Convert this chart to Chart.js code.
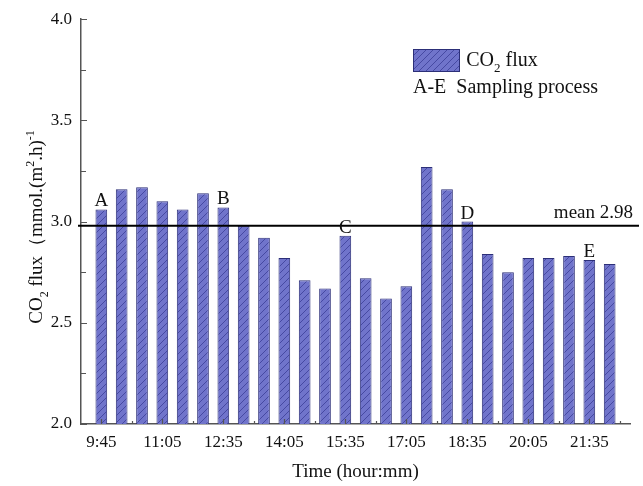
<!DOCTYPE html>
<html>
<head>
<meta charset="utf-8">
<script src="https://cdn.jsdelivr.net/npm/chart.js@4.4.1/dist/chart.umd.min.js"></script>
<style>
  html, body { margin: 0; padding: 0; background: #fff; }
</style>
</head>
<body>
<canvas id="flux_chart" width="643" height="486"></canvas>
<script>

// values, one bar per sampling time
var fluxValues = [3.06, 3.16, 3.17, 3.10, 3.06, 3.14, 3.07, 2.98, 2.92, 2.82,
                  2.71, 2.67, 2.93, 2.72, 2.62, 2.68, 3.27, 3.16, 3.00, 2.84,
                  2.75, 2.82, 2.82, 2.83, 2.81, 2.79];
var tickLabels = ['9:45', '11:05', '12:35', '14:05', '15:35', '17:05', '18:35', '20:05', '21:35'];
var tickEvery = 3;
var markLetters = ['A', 'B', 'C', 'D', 'E'];
var markBars = [0, 6, 12, 18, 24];
var meanValue = 2.98;

var serif = "'Liberation Serif', 'Times New Roman', serif";
var axisColor = '#555';

var ctx = document.getElementById('flux_chart');

function makeHatch() {
  var n = 7;
  var c = document.createElement('canvas');
  c.width = n; c.height = n;
  var g = c.getContext('2d');
  g.fillStyle = '#7074cb';
  g.fillRect(0, 0, n, n);
  g.strokeStyle = '#4649a2';
  g.lineWidth = 1;
  g.beginPath();
  g.moveTo(0, n); g.lineTo(n, 0);
  g.moveTo(-n / 2, n / 2); g.lineTo(n / 2, -n / 2);
  g.moveTo(n / 2, n * 1.5); g.lineTo(n * 1.5, n / 2);
  g.stroke();
  return ctx.getContext('2d').createPattern(c, 'repeat');
}
var hatch = makeHatch();

// text with sub/superscripts, parts = [{t, sub, sup}]
function drawRich(g, parts, x, y, size) {
  var total = 0;
  parts.forEach(function (p) {
    g.font = ((p.sub || p.sup) ? Math.round(size * 0.65) : size) + 'px ' + serif;
    p.w = g.measureText(p.t).width;
    total += p.w;
  });
  var cx = x - total / 2;
  g.textAlign = 'left';
  g.textBaseline = 'alphabetic';
  parts.forEach(function (p) {
    var dy = p.sub ? size * 0.3 : (p.sup ? -size * 0.42 : 0);
    g.font = ((p.sub || p.sup) ? Math.round(size * 0.65) : size) + 'px ' + serif;
    g.fillText(p.t, cx, y + dy);
    cx += p.w;
  });
}

var decorPlugin = {
  id: 'decor',
  afterDatasetsDraw: function (chart) {
    var g = chart.ctx, xs = chart.scales.x, ys = chart.scales.y, a = chart.chartArea;
    g.save();

    // inward ticks
    g.strokeStyle = axisColor;
    g.lineWidth = 1.2;
    g.beginPath();
    for (var v = 2; v <= 4.001; v += 0.25) {
      var py = Math.round(ys.getPixelForValue(v)) + 0.5;
      var len = (Math.abs(v * 2 - Math.round(v * 2)) < 0.01) ? 6 : 5;
      g.moveTo(a.left, py); g.lineTo(a.left + len, py);
    }
    for (var i = 0; i < fluxValues.length; i += tickEvery) {
      var px = Math.round(xs.getPixelForValue(i)) + 0.5;
      g.moveTo(px, a.bottom); g.lineTo(px, a.bottom - 5);
      var mx = Math.round(xs.getPixelForValue(i + tickEvery / 2)) + 0.5;
      g.moveTo(mx, a.bottom); g.lineTo(mx, a.bottom - 3);
    }
    g.stroke();

    // mean line
    var my = ys.getPixelForValue(meanValue);
    g.strokeStyle = '#000';
    g.lineWidth = 2;
    g.beginPath();
    g.moveTo(a.left - 3, my); g.lineTo(a.right + 9, my);
    g.stroke();

    g.fillStyle = '#111';
    g.font = '19px ' + serif;
    g.textAlign = 'right';
    g.textBaseline = 'alphabetic';
    g.fillText('mean 2.98', a.right + 3, my - 8);

    // sampling letters
    g.textAlign = 'center';
    markBars.forEach(function (b, k) {
      g.fillText(markLetters[k], xs.getPixelForValue(b), ys.getPixelForValue(fluxValues[b]) - 3);
    });

    // legend
    g.fillStyle = hatch;
    g.fillRect(413, 49, 47, 23);
    g.strokeStyle = '#2c2f78';
    g.lineWidth = 1;
    g.strokeRect(413.5, 49.5, 46, 22);
    g.fillStyle = '#111';
    drawRich(g, [{t: 'CO'}, {t: '2', sub: true}, {t: ' flux'}], 502, 66, 20);
    g.textAlign = 'left';
    g.font = '20px ' + serif;
    g.fillText('A-E  Sampling process', 413, 93);

    // axis titles
    drawRich(g, [{t: 'Time (hour:mm)'}], (a.left + a.right) / 2, 477, 19);
    g.translate(42, 227);
    g.rotate(-Math.PI / 2);
    drawRich(g, [{t: 'CO'}, {t: '2', sub: true}, {t: ' flux\uFF08mmol.(m'}, {t: '2', sup: true},
                 {t: '.h)'}, {t: '-1', sup: true}], 0, 0, 19);
    g.restore();
  }
};

var fluxchart = new Chart(ctx, {
  type: 'bar',
  data: {
    datasets: [{
      label: 'CO2 flux',
      data: fluxValues.map(function (v, i) { return {x: i, y: v}; }),
      backgroundColor: hatch,
      borderColor: '#2c2f78',
      borderWidth: 1,
      barPercentage: 0.575,
      categoryPercentage: 1
    }]
  },
  options: {
    responsive: false,
    animation: false,
    layout: {
      padding: {left: 0, top: 18, right: 13, bottom: 0}
    },
    plugins: {
      legend: {display: false},
      tooltip: {enabled: false}
    },
    scales: {
      x: {
        type: 'linear',
        offset: false,
        min: -1,
        max: 26,
        afterFit: function (s) { s.height = 62; },
        afterBuildTicks: function (s) {
          s.ticks = tickLabels.map(function (t, k) { return {value: k * tickEvery}; });
        },
        grid: {display: false, drawTicks: false, offset: false},
        border: {display: true, color: axisColor, width: 1.5},
        ticks: {
          padding: 8,
          color: '#111',
          font: {family: serif, size: 17},
          maxRotation: 0,
          autoSkip: false,
          callback: function (v, idx) { return tickLabels[idx]; }
        }
      },
      y: {
        min: 2,
        max: 4,
        afterFit: function (s) { s.width = 81; },
        grid: {display: false, drawTicks: false},
        border: {display: true, color: axisColor, width: 1.5},
        ticks: {
          stepSize: 0.5,
          padding: 9,
          color: '#111',
          font: {family: serif, size: 17},
          callback: function (v) { return v.toFixed(1); }
        }
      }
    }
  },
  plugins: [decorPlugin]
});

</script>
</body>
</html>
